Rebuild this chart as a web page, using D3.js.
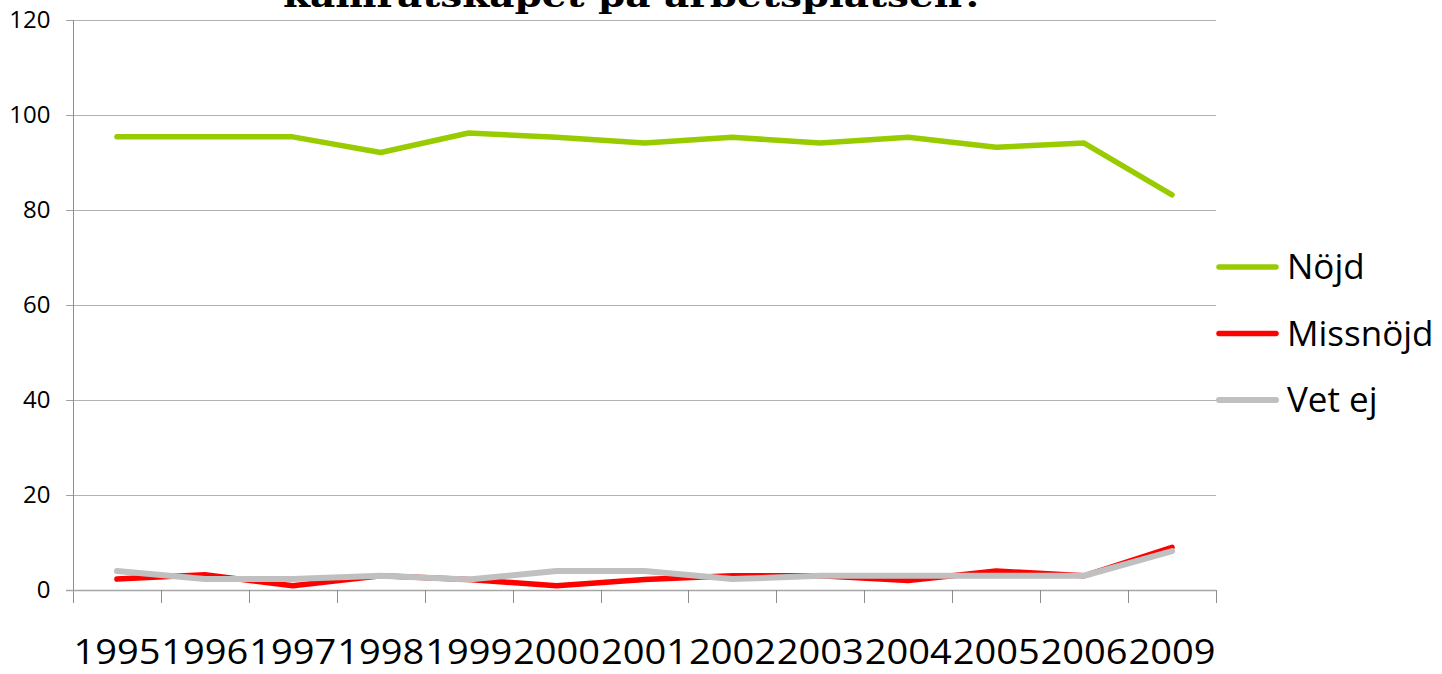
<!DOCTYPE html>
<html>
<head>
<meta charset="utf-8">
<script src="https://cdn.jsdelivr.net/npm/d3@7"></script>
<style>
  body { margin: 0; background: #fff; }
  svg { display: block; }
</style>
</head>
<body>
<div id="output"></div>
<script>
// Data
const years = ["1995","1996","1997","1998","1999","2000","2001","2002","2003","2004","2005","2006","2009"];
const nojd      = [95.4, 95.4, 95.4, 92.1, 96.2, 95.3, 94.1, 95.3, 94.1, 95.3, 93.2, 94.1, 83.2];
const missnojd  = [2.3, 3.2, 0.9, 3.0, 2.2, 0.9, 2.2, 3.0, 3.0, 2.0, 4.0, 3.0, 9.0];
const vetEj     = [4.0, 2.3, 2.3, 3.0, 2.2, 4.0, 4.0, 2.3, 3.0, 3.0, 3.0, 3.0, 8.2];
const yTicks    = [0, 20, 40, 60, 80, 100, 120];
const seriesNames = ["Nöjd", "Missnöjd", "Vet ej"];
const titleText = "kamratskapet på arbetsplatsen?";

function PlotGraph(parent_element = "output") {
  const W = 1442, H = 674;
  const plot = {left: 73, right: 1216, top: 20, bottom: 590};

  const svg = d3.select("#" + parent_element).append("svg")
    .attr("width", W)
    .attr("height", H);

  // Scales
  const x = d3.scaleBand().domain(years).range([plot.left, plot.right]);
  const y = d3.scaleLinear().domain([0, 120]).range([plot.bottom, plot.top]);

  const series = [
    {name: seriesNames[0], values: nojd, color: "#99cc00", width: 5.5},
    {name: seriesNames[1], values: missnojd, color: "#ff0000", width: 5.5},
    {name: seriesNames[2], values: vetEj, color: "#c0c0c0", width: 6}
  ];

  // Horizontal gridlines (with small tick on the left)
  svg.append("g")
    .selectAll("line")
    .data(yTicks.filter(d => d > 0))
    .enter().append("line")
    .attr("x1", plot.left - 7)
    .attr("x2", plot.right)
    .attr("y1", d => y(d) + 0.5)
    .attr("y2", d => y(d) + 0.5)
    .attr("stroke", "#b3b3b3")
    .attr("stroke-width", 1);

  // Y axis
  const yAxis = svg.append("g")
    .attr("transform", `translate(${plot.left + 0.5},0)`)
    .call(d3.axisLeft(y).tickValues(yTicks).tickSize(7).tickPadding(16));
  yAxis.attr("font-size", 24).attr("font-family", "'Open Sans', sans-serif");
  yAxis.select(".domain").remove();
  yAxis.selectAll(".tick line").attr("stroke", "#a0a0a0");
  yAxis.selectAll("text").attr("fill", "#000");
  svg.append("line")
    .attr("x1", plot.left + 0.5).attr("x2", plot.left + 0.5)
    .attr("y1", plot.top).attr("y2", plot.bottom + 13)
    .attr("stroke", "#8c8c8c");

  // X axis line and boundary ticks
  svg.append("line")
    .attr("x1", plot.left - 7).attr("x2", plot.right)
    .attr("y1", plot.bottom + 0.5).attr("y2", plot.bottom + 0.5)
    .attr("stroke", "#a6a6a6").attr("stroke-width", 1.5);
  const bounds = years.map(d => x(d)).concat([plot.right]);
  svg.append("g")
    .selectAll("line")
    .data(bounds.slice(1))
    .enter().append("line")
    .attr("x1", d => Math.round(d) + 0.5)
    .attr("x2", d => Math.round(d) + 0.5)
    .attr("y1", plot.bottom)
    .attr("y2", plot.bottom + 13)
    .attr("stroke", "#8c8c8c");

  // X labels (large, touching each other)
  svg.append("g")
    .selectAll("text")
    .data(years)
    .enter().append("text")
    .attr("x", d => x(d) + x.bandwidth() / 2)
    .attr("y", 664)
    .attr("text-anchor", "middle")
    .attr("textLength", 87)
    .attr("lengthAdjust", "spacingAndGlyphs")
    .style("font-family", "'Open Sans', sans-serif")
    .style("font-size", "35px")
    .text(d => d);

  // Lines
  const line = d3.line()
    .x((d, i) => x(years[i]) + x.bandwidth() / 2)
    .y(d => y(d));

  series.forEach(s => {
    svg.append("path")
      .datum(s.values)
      .attr("d", line)
      .attr("fill", "none")
      .attr("stroke", s.color)
      .attr("stroke-width", s.width)
      .attr("stroke-linejoin", "round")
      .attr("stroke-linecap", "round");
  });

  // Title (only its bottom part shows above the plot, as in the original)
  svg.append("text")
    .attr("x", 634)
    .attr("y", 7)
    .attr("text-anchor", "middle")
    .attr("textLength", 702)
    .attr("lengthAdjust", "spacingAndGlyphs")
    .style("font-family", "'DejaVu Serif', serif")
    .style("font-weight", "bold")
    .style("font-size", "32px")
    .text(titleText);

  // Legend
  const legend = svg.selectAll(".legend")
    .data(series)
    .enter().append("g")
    .attr("class", "legend")
    .attr("transform", (d, i) => `translate(1219,${267 + i * 66.5})`);

  legend.append("line")
    .attr("x1", 0).attr("x2", 57)
    .attr("y1", 0).attr("y2", 0)
    .attr("stroke", d => d.color)
    .attr("stroke-width", d => d.width)
    .attr("stroke-linecap", "round");

  legend.append("text")
    .attr("x", 68)
    .attr("y", 0)
    .attr("dy", "0.35em")
    .style("font-family", "'Open Sans', sans-serif")
    .style("font-size", "35px")
    .text(d => d.name);
}

document.addEventListener('DOMContentLoaded', (event) => {
  PlotGraph();
});
</script>
</body>
</html>
